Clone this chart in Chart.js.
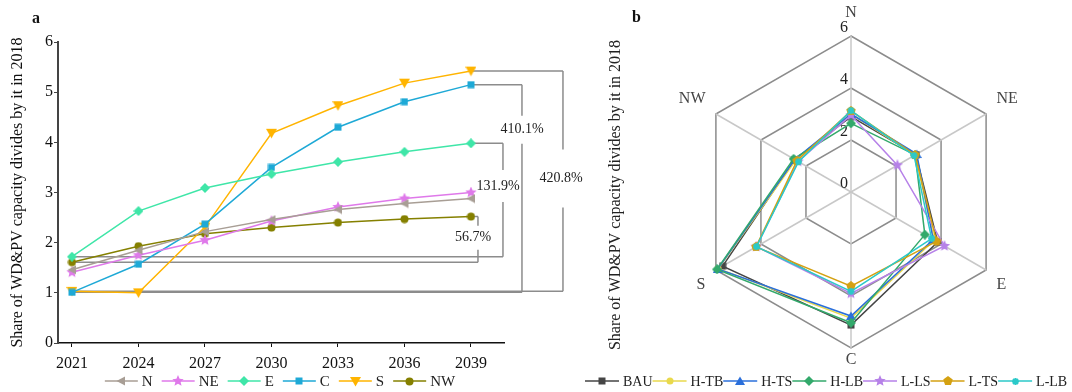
<!DOCTYPE html>
<html>
<head>
<meta charset="utf-8">
<script src="https://cdn.jsdelivr.net/npm/chart.js@4.4.1/dist/chart.umd.min.js"></script>
<style>
  body { margin: 0; background: #fff; }
  #wrap { position: relative; width: 1072px; height: 392px; overflow: hidden; }
  canvas { position: absolute; top: 0; }
  #ca { left: 0; }
  #cb { left: 580px; }
  .tag { position: absolute; font: bold 16px/16px "Liberation Serif", serif; color: #111; }
</style>
</head>
<body>
<div id="wrap">
  <canvas id="ca" width="600" height="392"></canvas>
  <canvas id="cb" width="492" height="392"></canvas>
  <div class="tag" style="left:32px;top:10px">a</div>
  <div class="tag" style="left:632px;top:9px">b</div>
</div>
<script>
// ---- panel a data
const years = [2021, 2024, 2027, 2030, 2033, 2036, 2039];
const yTicks = [0, 1, 2, 3, 4, 5, 6];
const regionN  = [1.46, 1.85, 2.22, 2.46, 2.66, 2.78, 2.88];
const regionNE = [1.41, 1.75, 2.05, 2.43, 2.71, 2.88, 3.00];
const regionE  = [1.72, 2.63, 3.09, 3.37, 3.61, 3.81, 3.98];
const regionC  = [1.01, 1.57, 2.37, 3.50, 4.30, 4.81, 5.15];
const regionS  = [1.03, 1.00, 2.31, 4.18, 4.73, 5.18, 5.42];
const regionNW = [1.61, 1.93, 2.18, 2.30, 2.40, 2.47, 2.52];
const growthText = { NW: '56.7%', E: '131.9%', C: '410.1%', S: '420.8%' };

// ---- panel b data
const axes = ['N', 'NE', 'E', 'C', 'S', 'NW'];
const radarTicks = [0, 2, 4, 6];
const scenBAU  = [2.90, 2.88, 3.85, 5.12, 5.70, 2.50];
const scenHTB  = [3.00, 2.85, 3.70, 4.85, 5.90, 2.45];
const scenHTS  = [3.00, 2.92, 3.65, 4.77, 5.92, 2.50];
const scenHLB  = [2.64, 2.85, 3.28, 5.03, 5.95, 2.55];
const scenLLS  = [2.95, 2.06, 4.15, 3.90, 4.20, 2.35];
const scenLTS  = [3.12, 2.85, 3.80, 3.62, 4.22, 2.40];
const scenLLB  = [3.13, 2.80, 3.58, 3.82, 4.20, 2.33];

const SERIF = '"Liberation Serif", "Times New Roman", serif';

function markImg(shape, color, size) {
  const c = document.createElement('canvas');
  c.width = size; c.height = size;
  const g = c.getContext('2d');
  const m = size / 2;
  g.fillStyle = color; g.strokeStyle = color;
  g.beginPath();
  if (shape === 'circle') g.arc(m, m, m - 0.5, 0, Math.PI * 2);
  else if (shape === 'rect') g.rect(0.5, 0.5, size - 1, size - 1);
  else if (shape === 'diamond') { g.moveTo(m, 0); g.lineTo(size, m); g.lineTo(m, size); g.lineTo(0, m); }
  else if (shape === 'triDown') { g.moveTo(0, 1); g.lineTo(size, 1); g.lineTo(m, size - 0.5); }
  else if (shape === 'triUp') { g.moveTo(m, 0.5); g.lineTo(size, size - 1); g.lineTo(0, size - 1); }
  else if (shape === 'triLeft') { g.moveTo(0.5, m); g.lineTo(size - 1, 0.5); g.lineTo(size - 1, size - 0.5); }
  else if (shape === 'star' || shape === 'pentagon') {
    const n = shape === 'star' ? 10 : 5;
    for (let k = 0; k < n; k++) {
      const r = (shape === 'star' && k % 2) ? m * 0.45 : m;
      const a = -Math.PI / 2 + k * 2 * Math.PI / n;
      g.lineTo(m + r * Math.cos(a), m + r * Math.sin(a));
    }
  } else if (shape === 'asterisk') {
    g.lineWidth = 2;
    for (let k = 0; k < 4; k++) {
      const a = k * Math.PI / 4;
      g.moveTo(m + (m - 1) * Math.cos(a), m + (m - 1) * Math.sin(a));
      g.lineTo(m - (m - 1) * Math.cos(a), m - (m - 1) * Math.sin(a));
    }
    g.stroke();
    return c;
  }
  g.closePath();
  g.fill();
  return c;
}

// legend drawn as line + marker + text, like the original figure
function legendPlugin(opts) {
  return {
    id: 'lineLegend',
    afterDraw(chart) {
      const ctx = chart.ctx;
      const sets = chart.data.datasets;
      ctx.save();
      ctx.font = opts.font;
      ctx.textBaseline = 'middle';
      ctx.textAlign = 'left';
      const widths = sets.map(d => opts.lineLen + opts.textGap + ctx.measureText(d.label).width);
      const total = widths.reduce((a, b) => a + b, 0) + opts.itemGap * (sets.length - 1);
      let x = opts.centerX != null ? opts.centerX - total / 2 : opts.startX;
      sets.forEach((d, i) => {
        ctx.strokeStyle = d.borderColor;
        ctx.lineWidth = 1.5;
        ctx.beginPath();
        ctx.moveTo(x, opts.y);
        ctx.lineTo(x + opts.lineLen, opts.y);
        ctx.stroke();
        const img = d.pointStyle;
        ctx.drawImage(img, Math.round(x + opts.lineLen / 2 - img.width / 2), Math.round(opts.y - img.height / 2));
        ctx.fillStyle = '#222';
        ctx.fillText(d.label, x + opts.lineLen + opts.textGap, opts.y + 1);
        x += widths[i] + opts.itemGap;
      });
      ctx.restore();
    }
  };
}

// ---------------- panel a
const lineSeries = [
  { label: 'N',  data: regionN,  color: '#a89e95', shape: 'triLeft', size: 10 },
  { label: 'NE', data: regionNE, color: '#df79ea', shape: 'star',    size: 12 },
  { label: 'E',  data: regionE,  color: '#3fe6a8', shape: 'diamond', size: 10 },
  { label: 'C',  data: regionC,  color: '#1ea9d6', shape: 'rect',    size: 8 },
  { label: 'S',  data: regionS,  color: '#ffb400', shape: 'triDown', size: 11 },
  { label: 'NW', data: regionNW, color: '#858000', shape: 'circle',  size: 9 }
];
const byName = {};
lineSeries.forEach(s => { byName[s.label] = s.data; });

// bracket styling: horizontal offset of the vertical bar from the last point, label centre (value units), gap half-height
const brackets = [
  { series: 'NW', dx: 7,  at: 2.10, gap: 12, tx: -5 },
  { series: 'E',  dx: 32, at: 3.13, gap: 16, tx: -5 },
  { series: 'C',  dx: 51, at: 4.25, gap: 14, tx: 0 },
  { series: 'S',  dx: 92, at: 3.28, gap: 29, tx: -2 }
];

const bracketPlugin = {
  id: 'brackets',
  beforeDatasetsDraw(chart) {
    const { ctx, scales: { x, y } } = chart;
    ctx.save();
    ctx.strokeStyle = '#8c8c8c';
    ctx.lineWidth = 1.5;
    ctx.font = '14px ' + SERIF;
    ctx.fillStyle = '#222';
    ctx.textAlign = 'center';
    ctx.textBaseline = 'middle';
    const x0 = x.getPixelForValue(years[0]);
    const x1 = x.getPixelForValue(years[years.length - 1]);
    brackets.forEach(b => {
      const vals = byName[b.series];
      const yA = y.getPixelForValue(vals[0]);
      const yB = y.getPixelForValue(vals[vals.length - 1]);
      const vx = x1 + b.dx;
      const ly = y.getPixelForValue(b.at);
      ctx.beginPath();
      ctx.moveTo(x1, yB); ctx.lineTo(vx, yB);
      ctx.moveTo(vx, yB); ctx.lineTo(vx, ly - b.gap);
      ctx.moveTo(vx, ly + b.gap); ctx.lineTo(vx, yA);
      ctx.moveTo(x0, yA); ctx.lineTo(vx, yA);
      ctx.stroke();
      ctx.fillText(growthText[b.series], vx + b.tx, ly);
    });
    ctx.restore();
  }
};

new Chart(document.getElementById('ca'), {
  type: 'line',
  data: {
    datasets: lineSeries.map(s => ({
      label: s.label,
      data: years.map((yr, i) => ({ x: yr, y: s.data[i] })),
      borderColor: s.color,
      backgroundColor: s.color,
      borderWidth: 1.5,
      pointStyle: markImg(s.shape, s.color, s.size),
      pointRadius: 5,
      tension: 0
    }))
  },
  options: {
    responsive: false,
    animation: false,
    layout: { padding: { left: 0, right: 96, top: 42, bottom: 19 } },
    plugins: { legend: { display: false }, tooltip: { enabled: false } },
    scales: {
      x: {
        type: 'linear',
        min: 2020.37,
        max: 2040.49,
        afterBuildTicks: s => { s.ticks = years.map(v => ({ value: v })); },
        afterFit: s => { s.height = 30; },
        grid: { drawOnChartArea: false, drawTicks: true, tickLength: 4, color: '#111' },
        border: { color: '#111', width: 1.5 },
        ticks: { callback: v => String(v), font: { family: SERIF, size: 16 }, color: '#111', padding: 7, maxRotation: 0, autoSkip: false }
      },
      y: {
        min: 0,
        max: 6,
        afterBuildTicks: s => { s.ticks = yTicks.map(v => ({ value: v })); },
        afterFit: s => { s.width = 58; },
        grid: { drawOnChartArea: false, tickLength: 4, color: '#444' },
        border: { color: '#444', width: 2 },
        ticks: { font: { family: SERIF, size: 16 }, color: '#111', padding: 1 },
        title: {
          display: true,
          text: 'Share of WD&PV capacity divides by it in 2018',
          font: { family: SERIF, size: 16 },
          color: '#111',
          padding: { top: 8, bottom: 0 }
        }
      }
    }
  },
  plugins: [bracketPlugin, legendPlugin({ font: '15px ' + SERIF, y: 381, lineLen: 33, textGap: 4, itemGap: 9, centerX: 280 })]
});

// ---------------- panel b
const scenarios = [
  { label: 'BAU',  data: scenBAU, color: '#454545', shape: 'rect',     size: 8 },
  { label: 'H-TB', data: scenHTB, color: '#e9d94c', shape: 'circle',   size: 8 },
  { label: 'H-TS', data: scenHTS, color: '#2a6fdb', shape: 'triUp',    size: 10 },
  { label: 'H-LB', data: scenHLB, color: '#33a96b', shape: 'diamond',  size: 10 },
  { label: 'L-LS', data: scenLLS, color: '#b681e8', shape: 'star',     size: 12 },
  { label: 'L-TS', data: scenLTS, color: '#d4a112', shape: 'pentagon', size: 10 },
  { label: 'L-LB', data: scenLLB, color: '#2bc9c9', shape: 'asterisk', size: 9 }
];

const radarText = {
  id: 'radarText',
  beforeDatasetsDraw(chart) {
    const ctx = chart.ctx, r = chart.scales.r;
    ctx.save();
    ctx.font = '16px ' + SERIF;
    ctx.fillStyle = '#222';
    ctx.textAlign = 'center';
    ctx.textBaseline = 'middle';
    radarTicks.forEach(v => {
      ctx.fillText(String(v), r.xCenter - 7, r.yCenter - r.getDistanceFromCenterForValue(v) - 8);
    });
    ctx.restore();
  },
  afterDraw(chart) {
    const ctx = chart.ctx, r = chart.scales.r;
    ctx.save();
    ctx.font = '16px ' + SERIF;
    ctx.fillStyle = '#444';
    ctx.textAlign = 'center';
    ctx.textBaseline = 'middle';
    axes.forEach((lab, i) => {
      const p = r.getPointPosition(i, r.drawingArea + 12);
      const c = Math.cos(p.angle), s = Math.sin(p.angle);
      const w = ctx.measureText(lab).width;
      const dx = Math.abs(c) > 0.01 ? Math.sign(c) * w / 2 : 0;
      const dy = Math.abs(c) > 0.01 ? Math.sign(s) * 9 : (s < 0 ? -11 : 0);
      ctx.fillText(lab, p.x + dx, p.y + dy);
    });
    ctx.fillStyle = '#222';
    ctx.translate(36, 195);
    ctx.rotate(-Math.PI / 2);
    ctx.fillText('Share of WD&PV capacity divides by it in 2018', 0, 0);
    ctx.restore();
  }
};

new Chart(document.getElementById('cb'), {
  type: 'radar',
  data: {
    labels: axes,
    datasets: scenarios.map((s, i) => ({
      label: s.label,
      data: s.data,
      borderColor: s.color,
      backgroundColor: s.color,
      borderWidth: 1.5,
      fill: false,
      pointStyle: markImg(s.shape, s.color, s.size),
      pointRadius: 4,
      order: scenarios.length - i
    }))
  },
  options: {
    responsive: false,
    animation: false,
    layout: { padding: { left: 115, right: 65, top: 36, bottom: 44 } },
    plugins: { legend: { display: false }, tooltip: { enabled: false } },
    scales: {
      r: {
        min: 0,
        max: 6,
        afterBuildTicks: s => { s.ticks = radarTicks.map(v => ({ value: v })); },
        ticks: { display: false, stepSize: 2 },
        pointLabels: { display: false },
        grid: { color: '#8c8c8c', lineWidth: 1.5 },
        angleLines: { color: '#c8c8c8', lineWidth: 1.5 }
      }
    }
  },
  plugins: [radarText, legendPlugin({ font: '14px ' + SERIF, y: 381, lineLen: 34, textGap: 4, itemGap: 0, startX: 5 })]
});
</script>
</body>
</html>
